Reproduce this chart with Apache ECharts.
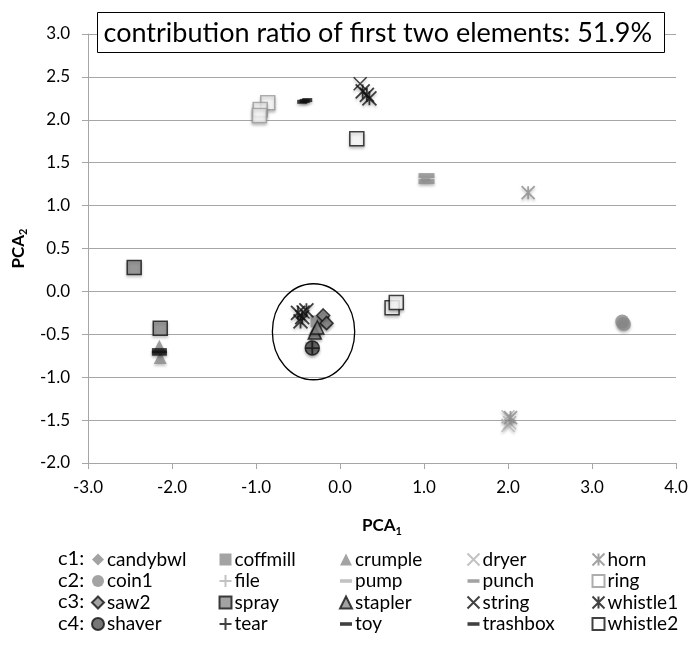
<!DOCTYPE html>
<html>
<head>
<meta charset="utf-8">
<script src="https://cdn.jsdelivr.net/npm/echarts@6/dist/echarts.min.js"></script>
<style>
  html, body { margin: 0; padding: 0; background: #fff; }
  #chart { width: 691px; height: 648px; }
</style>
</head>
<body>
<div id="chart"></div>
<script>
// PCA scores, one array per sound class
const candybwl = [[-0.2, -0.3], [-0.17, -0.36]]
const coffmill = [[-0.28, -0.35]]
const crumple = [[-0.3, -0.44], [-2.14, -0.77], [-2.15, -0.64]]
const dryer = [[2.0, -1.46], [2.02, -1.53], [2.0, -1.56]]
const horn = [[2.24, 1.15], [2.03, -1.47]]
const coin1 = [[3.36, -0.35], [3.38, -0.38]]
const file = [[-0.34, -0.6]]
const pump = [[1.02, 1.3]]
const punch = [[1.03, 1.35], [1.03, 1.28]]
const ring = [[-0.86, 2.2], [-0.95, 2.12], [-0.96, 2.05]]
const saw2 = [[-0.2, -0.28], [-0.16, -0.37]]
const spray = [[-2.45, 0.28], [-2.14, -0.43]]
const stapler = [[-0.3, -0.48], [-0.27, -0.42]]
const string = [[0.24, 2.42], [-0.44, -0.24]]
const whistle1 = [[0.27, 2.33], [0.32, 2.29], [0.35, 2.25], [-0.5, -0.25], [-0.45, -0.3], [-0.4, -0.22], [-0.47, -0.35]]
const shaver = [[-0.33, -0.66]]
const tear = [[-0.33, -0.66]]
const toy = [[-0.45, 2.21], [-0.42, 2.22], [-0.39, 2.23]]
const trashbox = [[-2.15, -0.69], [-2.15, -0.72]]
const whistle2 = [[0.2, 1.78], [0.62, -0.19], [0.67, -0.13]]

const legendColumns = [
  ['candybwl', 'coin1', 'saw2', 'shaver'],
  ['coffmill', 'file', 'spray', 'tear'],
  ['crumple', 'pump', 'stapler', 'toy'],
  ['dryer', 'punch', 'string', 'trashbox'],
  ['horn', 'ring', 'whistle1', 'whistle2']
]
const rowLabels = ['c1:', 'c2:', 'c3:', 'c4:']
const titleText = 'contribution ratio of first two elements: 51.9%'
const circled = { center: [-0.315, -0.47], rx: 0.49, ry: 0.56 }

const FONT = 'Lato, "Open Sans", sans-serif'
const X_PATH = 'path://M0,0L10,10M10,0L0,10'
const STAR_PATH = 'path://M0,0L10,10M10,0L0,10M5,0L5,10'
const PLUS_PATH = 'path://M5,0L5,10M0,5L10,5'
const DASH_PATH = 'path://M0,0L10,0L10,3L0,3Z'

const GRAY = '#8c8c8c'
const LIGHT = '#b3b3b3'
const DARK = '#111'

function filled(symbol, size, color, border) {
  return { symbol, symbolSize: size, itemStyle: { color, borderColor: border || color, borderWidth: border ? 1.5 : 0 } }
}
function stroked(symbol, size, color, width) {
  return { symbol, symbolSize: size, itemStyle: { color: 'none', borderColor: color, borderWidth: width } }
}

const styles = {
  candybwl: filled('diamond', 13, GRAY),
  coffmill: filled('rect', 12, GRAY),
  crumple: filled('triangle', 13, GRAY),
  dryer: stroked(X_PATH, 13, LIGHT, 1.5),
  horn: stroked(STAR_PATH, 13, GRAY, 1.8),
  coin1: filled('circle', 14, GRAY),
  file: stroked(PLUS_PATH, 13, LIGHT, 1.5),
  pump: filled(DASH_PATH, [9, 3], LIGHT),
  punch: filled(DASH_PATH, [16, 5], GRAY),
  ring: filled('rect', 14, '#fff', '#999'),
  saw2: filled('diamond', 13, GRAY, DARK),
  spray: filled('rect', 14, GRAY, DARK),
  stapler: filled('triangle', 13, GRAY, DARK),
  string: stroked(X_PATH, 13, DARK, 1.5),
  whistle1: stroked(STAR_PATH, 14, DARK, 1.8),
  shaver: filled('circle', 14, '#555', DARK),
  tear: stroked(PLUS_PATH, 13, DARK, 1.8),
  toy: filled(DASH_PATH, [10, 4], DARK),
  trashbox: filled(DASH_PATH, [15, 5], DARK),
  whistle2: filled('rect', 14, '#fff', DARK)
}

const seriesData = {
  candybwl, coffmill, crumple, dryer, horn, coin1, file, pump, punch, ring,
  saw2, spray, stapler, string, whistle1, shaver, tear, toy, trashbox, whistle2
}

const series = Object.keys(seriesData).map(name => ({
  name,
  type: 'scatter',
  data: seriesData[name],
  symbol: styles[name].symbol,
  symbolSize: styles[name].symbolSize,
  itemStyle: Object.assign({
    shadowBlur: 3,
    shadowOffsetY: 2,
    shadowColor: 'rgba(0,0,0,0.3)'
  }, styles[name].itemStyle),
  emphasis: { disabled: true }
}))

const colLeft = [91, 217, 339, 465, 590]
const legends = legendColumns.map((names, i) => ({
  data: names,
  orient: 'vertical',
  left: colLeft[i],
  top: 550,
  padding: 0,
  itemWidth: 12,
  itemHeight: 12,
  itemGap: 2.5,
  selectedMode: false,
  itemStyle: { shadowBlur: 0, shadowOffsetY: 0 },
  textStyle: { fontFamily: FONT, fontSize: 19, lineHeight: 19, color: '#000', padding: [0, 0, 0, -2] }
}))

const chart = echarts.init(document.getElementById('chart'), null, { renderer: 'canvas' })

const axisLineStyle = { color: '#a6a6a6', width: 1 }
const nameRich = {
  a: { fontFamily: FONT, fontSize: 17, fontWeight: 'bold', color: '#000', lineHeight: 22 },
  s: { fontFamily: FONT, fontSize: 11, fontWeight: 'bold', color: '#000', verticalAlign: 'bottom', lineHeight: 22, padding: [6, 0, 0, 0] }
}

chart.setOption({
  animation: false,
  backgroundColor: '#fff',
  grid: { left: 88, right: 15, top: 34, bottom: 185 },
  xAxis: {
    type: 'value',
    min: -3,
    max: 4,
    interval: 1,
    name: '{a|PCA}{s|1}',
    nameLocation: 'middle',
    nameGap: 52,
    nameTextStyle: { rich: nameRich },
    axisLine: { show: true, onZero: false, lineStyle: axisLineStyle },
    axisTick: { show: true, length: 6, lineStyle: axisLineStyle },
    splitLine: { show: false },
    axisLabel: {
      margin: 16,
      fontFamily: FONT,
      fontSize: 17,
      color: '#000',
      formatter: v => v.toFixed(1)
    }
  },
  yAxis: {
    type: 'value',
    min: -2,
    max: 3,
    interval: 0.5,
    name: '{a|PCA}{s|2}',
    nameLocation: 'middle',
    nameRotate: 90,
    nameGap: 58,
    nameTextStyle: { rich: nameRich },
    axisLine: { show: true, onZero: false, lineStyle: axisLineStyle },
    axisTick: { show: true, length: 6, lineStyle: axisLineStyle },
    splitLine: { show: true, lineStyle: { color: '#a6a6a6', width: 1 } },
    axisLabel: {
      margin: 18,
      fontFamily: FONT,
      fontSize: 17,
      color: '#000',
      formatter: v => v.toFixed(1)
    }
  },
  legend: legends,
  series
})

// annotations: title box, row labels and the circle round the central cluster
const c = chart.convertToPixel({ gridIndex: 0 }, circled.center)
const edge = chart.convertToPixel({ gridIndex: 0 }, [circled.center[0] + circled.rx, circled.center[1] + circled.ry])
const rx = Math.abs(edge[0] - c[0])
const ry = Math.abs(edge[1] - c[1])

chart.setOption({
  graphic: [
    {
      type: 'group',
      left: 97,
      top: 12,
      children: [
        { type: 'rect', shape: { x: 0, y: 0, width: 567, height: 40 }, style: { fill: '#fff', stroke: '#000', lineWidth: 1 } },
        { type: 'text', x: 6, y: 21, style: { text: titleText, font: '27px ' + FONT, fill: '#000', verticalAlign: 'middle' } }
      ]
    },
    ...rowLabels.map((t, i) => ({
      type: 'text',
      left: 58,
      top: 549 + i * 21.5,
      style: { text: t, font: '20px ' + FONT, fill: '#000' }
    })),
    {
      type: 'circle',
      x: c[0],
      y: c[1],
      scaleY: ry / rx,
      shape: { cx: 0, cy: 0, r: rx },
      style: { fill: 'none', stroke: '#000', lineWidth: 1.3 },
      z: 10
    }
  ]
})
</script>
</body>
</html>
